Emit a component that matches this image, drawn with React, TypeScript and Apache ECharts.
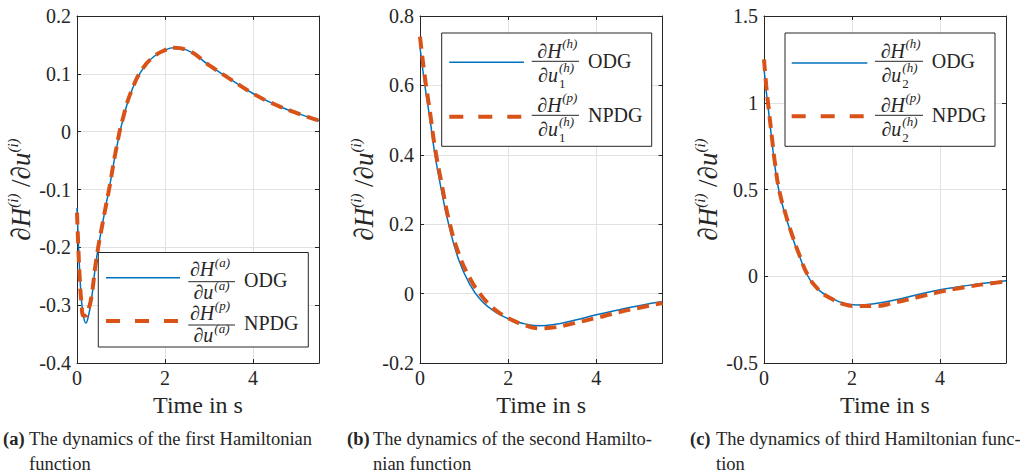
import React, { useEffect, useRef } from "react";
import * as echarts from "echarts";

// ---------- data ----------
const timeA = [0, 0.03, 0.06, 0.1, 0.15, 0.2, 0.27, 0.33, 0.44, 0.59, 0.74, 0.89, 1.04, 1.25, 1.5, 1.75, 2.0, 2.2, 2.5, 3.0, 3.5, 4.0, 4.5, 5.0, 5.5];
const odgA = [-0.132, -0.19, -0.24, -0.29, -0.32, -0.331, -0.315, -0.29, -0.221, -0.155, -0.095, -0.032, 0.02, 0.072, 0.109, 0.13, 0.141, 0.145, 0.141, 0.115, 0.09, 0.066, 0.047, 0.032, 0.019];
const npdgA = [-0.14, -0.2, -0.25, -0.295, -0.318, -0.318, -0.305, -0.285, -0.22, -0.155, -0.095, -0.03, 0.022, 0.073, 0.11, 0.13, 0.141, 0.145, 0.141, 0.115, 0.09, 0.066, 0.047, 0.032, 0.019];

const timeB = [0, 0.115, 0.23, 0.34, 0.5, 0.65, 0.88, 1.15, 1.37, 1.6, 1.83, 2.1, 2.4, 2.7, 3.0, 3.5, 4.0, 4.5, 5.0, 5.5];
const odgB = [0.71, 0.596, 0.5, 0.4, 0.289, 0.2, 0.097, 0.022, -0.017, -0.043, -0.062, -0.077, -0.088, -0.093, -0.09, -0.077, -0.061, -0.047, -0.034, -0.023];
const npdgB = [0.74, 0.62, 0.52, 0.42, 0.31, 0.215, 0.115, 0.04, -0.002, -0.035, -0.058, -0.077, -0.092, -0.1, -0.098, -0.085, -0.07, -0.054, -0.04, -0.027];

const timeC = [0, 0.05, 0.1, 0.18, 0.25, 0.35, 0.5, 0.65, 0.8, 1.0, 1.25, 1.5, 1.8, 2.1, 2.5, 3.0, 3.5, 4.0, 4.5, 5.0, 5.5];
const odgC = [1.2, 1.07, 0.96, 0.78, 0.63, 0.48, 0.34, 0.22, 0.12, 0.0, -0.08, -0.12, -0.155, -0.165, -0.158, -0.136, -0.105, -0.078, -0.058, -0.04, -0.026];
const npdgC = [1.25, 1.1, 0.98, 0.8, 0.65, 0.49, 0.35, 0.23, 0.125, 0.005, -0.08, -0.125, -0.16, -0.172, -0.172, -0.15, -0.12, -0.09, -0.066, -0.046, -0.03];

const yRangeA = [-0.4, 0.2, 0.1];
const yRangeB = [-0.2, 0.8, 0.2];
const yRangeC = [-0.5, 1.5, 0.5];
const xRange = [0, 5.5, 2];

const seriesNames = ["ODG", "NPDG"];
const xAxisTitle = "Time in s";
const numSups = [["(a)", "(p)"], ["(h)", "(p)"], ["(h)", "(p)"]];
const denSups = ["(a)", "(h)", "(h)"];
const denSubs = ["", "1", "2"];
const captionTags = ["(a)", "(b)", "(c)"];
const captionLine1 = [
  "The dynamics of the first Hamiltonian",
  "The dynamics of the second Hamilto-",
  "The dynamics of third Hamiltonian func-",
];
const captionLine2 = ["function", "nian function", "tion"];

// ---------- styles / layout ----------
const SERIF = "Liberation Serif, DejaVu Serif, serif";
const BLUE = "#0072BD";
const RED = "#D95319";
const AX = "#262626";
const GRIDC = "#e2e2e2";
const FRAC_FS = 20;

const gridBoxes = [
  { left: 77, top: 16, width: 242, height: 347 },
  { left: 420, top: 16, width: 242.5, height: 347 },
  { left: 764, top: 16, width: 242, height: 347 },
];

const legendLayouts = [
  { box: [98.3, 252.5, 210, 94.5], lineX: [106, 180], rows: [[277.7, 281.7], [321, 325]], barX: [188.3, 235], numRight: 26, denRight: 25, numBase: 5.5, denBase: 17, labelX: 244, labelBase: 5 },
  { box: [441.7, 33, 210, 113.3], lineX: [449.3, 524], rows: [[62.3, 61.3], [116.7, 115.3]], barX: [531.7, 579], numRight: 30, denRight: 26.3, numBase: 4, denBase: 20, labelX: 588, labelBase: 6 },
  { box: [785, 33, 210, 113.3], lineX: [791.7, 867.3], rows: [[63, 61.3], [116.3, 115.3]], barX: [875, 923], numRight: 30, denRight: 26.3, numBase: 4, denBase: 20, labelX: 931.7, labelBase: 6 },
];

const captionX = [3, 347, 690];

function zip(t: number[], v: number[]) {
  return t.map((x, i) => [x, v[i]]);
}

function txt(text: string, x: number, baseline: number, fs: number, opts: any = {}) {
  return {
    type: "text",
    x,
    y: baseline - 0.34 * fs,
    z: 20,
    style: {
      text,
      fontFamily: SERIF,
      fontSize: fs,
      lineHeight: opts.tight ? Math.round(fs * 0.8) : fs,
      fontStyle: opts.italic ? "italic" : "normal",
      fontWeight: opts.bold ? "bold" : "normal",
      fill: AX,
      align: opts.align || "left",
      verticalAlign: "middle",
    },
  };
}

function buildOption() {
  const panels = [
    { t: timeA, odg: odgA, npdg: npdgA, y: yRangeA },
    { t: timeB, odg: odgB, npdg: npdgB, y: yRangeB },
    { t: timeC, odg: odgC, npdg: npdgC, y: yRangeC },
  ];
  const xAxis: any[] = [];
  const yAxis: any[] = [];
  const series: any[] = [];
  const graphic: any[] = [];

  panels.forEach((p, i) => {
    const common = {
      type: "value",
      gridIndex: i,
      axisLine: { show: true, onZero: false, lineStyle: { color: AX, width: 1 } },
      axisTick: { show: true, inside: true, length: 4, lineStyle: { color: AX, width: 1 } },
    };
    xAxis.push({
      ...common,
      position: "bottom",
      min: xRange[0],
      max: xRange[1],
      interval: xRange[2],
      axisLabel: { color: AX, fontFamily: SERIF, fontSize: 20, margin: 5, showMaxLabel: false },
      splitLine: { show: true, lineStyle: { color: GRIDC, width: 1 } },
      name: xAxisTitle,
      nameLocation: "middle",
      nameGap: 30,
      nameTextStyle: { color: AX, fontFamily: SERIF, fontSize: 24 },
    });
    xAxis.push({
      ...common,
      position: "top",
      min: xRange[0],
      max: xRange[1],
      interval: xRange[2],
      axisLabel: { show: false },
      splitLine: { show: false },
    });
    yAxis.push({
      ...common,
      position: "left",
      min: p.y[0],
      max: p.y[1],
      interval: p.y[2],
      axisLabel: { color: AX, fontFamily: SERIF, fontSize: 20, margin: 6 },
      splitLine: { show: true, lineStyle: { color: GRIDC, width: 1 } },
      name: "{m|∂H}{s|(i)}{n| /}{m|∂u}{s|(i)}",
      nameLocation: "middle",
      nameGap: 40,
      nameTextStyle: {
        color: AX,
        rich: {
          m: { fontFamily: SERIF, fontStyle: "italic", fontSize: 27, lineHeight: 32, color: AX },
          n: { fontFamily: SERIF, fontSize: 27, lineHeight: 32, color: AX },
          s: { fontFamily: SERIF, fontStyle: "italic", fontSize: 15, lineHeight: 10, verticalAlign: "top", color: AX },
        },
      },
    });
    yAxis.push({
      ...common,
      position: "right",
      min: p.y[0],
      max: p.y[1],
      interval: p.y[2],
      axisLabel: { show: false },
      splitLine: { show: false },
    });
    series.push({
      type: "line",
      name: seriesNames[0],
      xAxisIndex: 2 * i,
      yAxisIndex: 2 * i,
      data: zip(p.t, p.odg),
      showSymbol: false,
      smooth: true,
      lineStyle: { color: BLUE, width: 1.5 },
      itemStyle: { color: BLUE },
      z: 3,
    });
    series.push({
      type: "line",
      name: seriesNames[1],
      xAxisIndex: 2 * i,
      yAxisIndex: 2 * i,
      data: zip(p.t, p.npdg),
      showSymbol: false,
      smooth: true,
      lineStyle: { color: RED, width: 4, type: [12, 7] },
      itemStyle: { color: RED },
      z: 4,
    });

    // legend (drawn with graphic elements for the fraction labels)
    const L = legendLayouts[i];
    graphic.push({
      type: "rect",
      z: 15,
      shape: { x: L.box[0], y: L.box[1], width: L.box[2], height: L.box[3] },
      style: { fill: "#ffffff", stroke: AX, lineWidth: 1 },
    });
    L.rows.forEach((row, r) => {
      const [lineY, barY] = row;
      graphic.push({
        type: "line",
        z: 20,
        shape: { x1: L.lineX[0], y1: lineY, x2: L.lineX[1], y2: lineY },
        style:
          r === 0
            ? { stroke: BLUE, lineWidth: 1.5 }
            : { stroke: RED, lineWidth: 4, lineDash: [14, 15] },
      });
      graphic.push({
        type: "line",
        z: 20,
        shape: { x1: L.barX[0], y1: barY, x2: L.barX[1], y2: barY },
        style: { stroke: AX, lineWidth: 1 },
      });
      const nx = L.barX[0] + L.numRight;
      graphic.push(txt("∂H", nx, barY - L.numBase, FRAC_FS, { italic: true, align: "right", tight: true }));
      graphic.push(txt(numSups[i][r], nx + 0.5, barY - L.numBase - 9.5, 13, { italic: true, tight: true }));
      const dx = L.barX[0] + L.denRight;
      graphic.push(txt("∂u", dx, barY + L.denBase, FRAC_FS, { italic: true, align: "right", tight: true }));
      graphic.push(txt(denSups[i], dx + 1, barY + L.denBase - 9, 13, { italic: true, tight: true }));
      if (denSubs[i]) {
        graphic.push(txt(denSubs[i], dx + 1, barY + L.denBase + 6.5, 13, { tight: true }));
      }
      graphic.push(txt(seriesNames[r], L.labelX, barY + L.labelBase, 20, {}));
    });

    // caption
    const cx = captionX[i];
    graphic.push(txt(captionTags[i], cx, 445.7, 18.5, { bold: true }));
    graphic.push(txt(captionLine1[i], cx + 26, 445.7, 18.5, {}));
    graphic.push(txt(captionLine2[i], cx + 26, 470, 18.5, {}));
  });

  return {
    animation: false,
    backgroundColor: "#ffffff",
    grid: gridBoxes.map((g) => ({ ...g, containLabel: false })),
    xAxis,
    yAxis,
    series,
    graphic,
  };
}

export default function App() {
  const ref = useRef<HTMLDivElement>(null);
  useEffect(() => {
    document.body.style.margin = "0";
    if (!ref.current) return;
    const chart = echarts.init(ref.current, undefined, { renderer: "svg" });
    chart.setOption(buildOption() as any);
    return () => chart.dispose();
  }, []);
  return (
    <div
      ref={ref}
      style={{ position: "absolute", left: 0, top: 0, width: 1020, height: 475, background: "#fff" }}
    />
  );
}
